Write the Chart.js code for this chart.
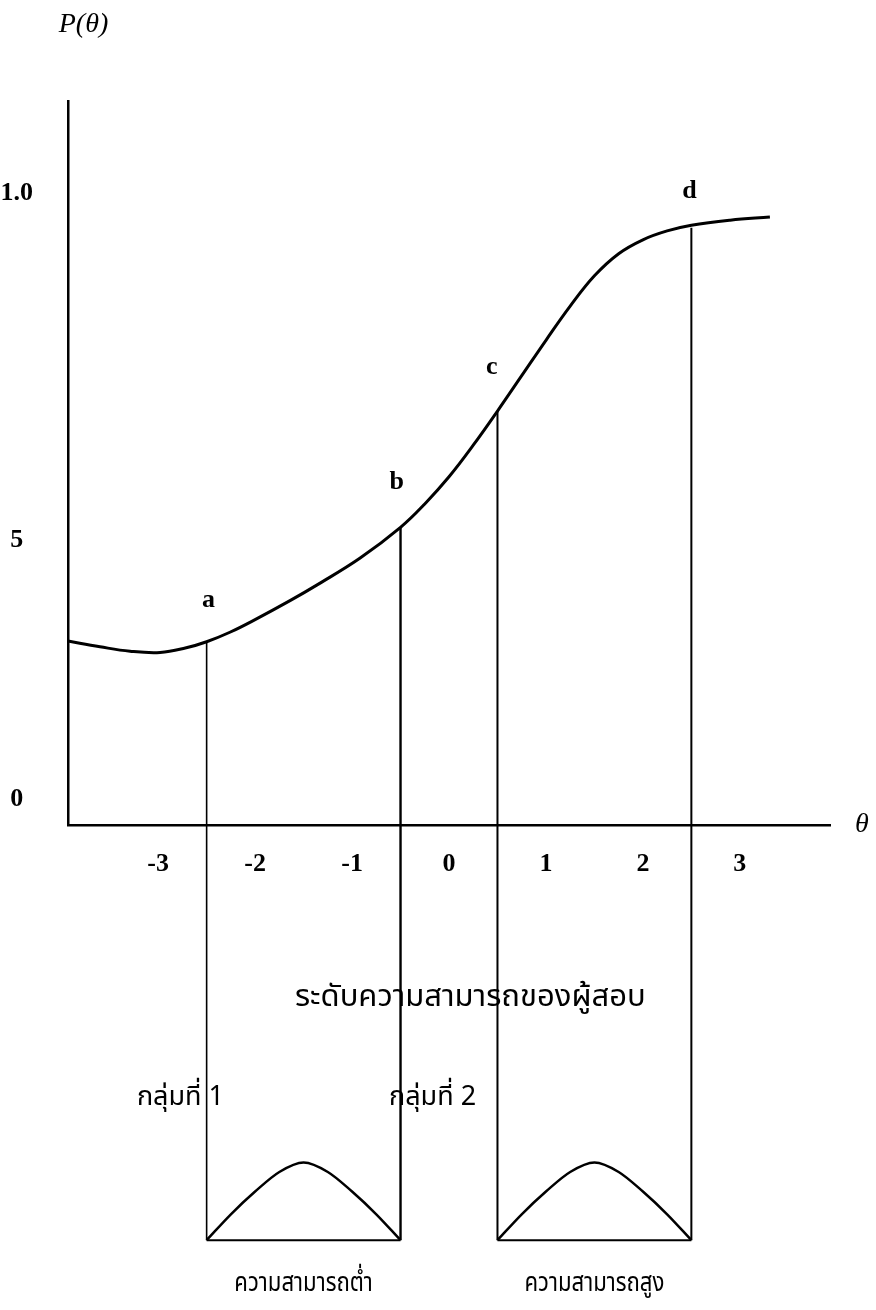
<!DOCTYPE html>
<html>
<head>
<meta charset="utf-8">
<script src="https://cdn.jsdelivr.net/npm/chart.js@4.4.1/dist/chart.umd.min.js"></script>
<style>
  html, body { margin: 0; padding: 0; background: #fff; }
  #wrap { width: 876px; height: 1310px; }
</style>
</head>
<body>
<div id="wrap"><canvas id="myChart" width="876" height="1310"></canvas></div>
<script>
// item characteristic curve
const thetaCurve = [-3.93, -3.6, -3.29, -2.98, -2.72, -2.5, -2.26, -2.0, -1.64, -1.36, -0.92, -0.5, -0.25, 0.0, 0.25, 0.5, 0.75, 1.0, 1.25, 1.5, 1.75, 2.0, 2.25, 2.5, 2.9, 3.31];
const probCurve = [0.291, 0.282, 0.275, 0.273, 0.28, 0.29, 0.305, 0.325, 0.355, 0.38, 0.422, 0.471, 0.508, 0.551, 0.601, 0.655, 0.711, 0.767, 0.821, 0.869, 0.904, 0.926, 0.94, 0.949, 0.957, 0.962];

// cut points a, b, c, d
const markerNames = ['a', 'b', 'c', 'd'];
const markerTheta = [-2.5, -0.5, 0.5, 2.5];
const markerTop = [0.29, 0.471, 0.655, 0.945];
const letterTheta = [-2.48, -0.54, 0.44, 2.48];
const letterProb = [0.356, 0.543, 0.725, 1.002];
const groundProb = -0.657;

// the two small ability distributions under the axis
const group1Theta = [-2.5, -2.25, -2.0, -1.75, -1.5, -1.25, -1.0, -0.75, -0.5];
const group1Prob = [-0.657, -0.616, -0.58, -0.549, -0.534, -0.549, -0.58, -0.616, -0.657];
const group2Theta = [0.5, 0.75, 1.0, 1.25, 1.5, 1.75, 2.0, 2.25, 2.5];
const group2Prob = [-0.657, -0.616, -0.58, -0.549, -0.534, -0.549, -0.58, -0.616, -0.657];

// tick labels
const xTickValues = [-3, -2, -1, 0, 1, 2, 3];
const yTickValues = [0.04, 0.451, 1.0];
const yTickLabels = ['0', '5', '1.0'];

// texts placed on the figure
const noteText = ['P(θ)', 'θ', 'ระดับความสามารถของผู้สอบ', 'กลุ่มที่ 1', 'กลุ่มที่ 2', 'ความสามารถต่ำ', 'ความสามารถสูง'];
const noteTheta = [-3.77, 4.26, 0.22, -2.77, -0.17, -1.5, 1.5];
const noteProb = [1.266, 0.0, -0.277, -0.435, -0.435, -0.728, -0.728];

const serif = '"Liberation Serif", "Times New Roman", serif';
const thai = '"Noto Sans Thai", "Noto Sans", "DejaVu Sans", sans-serif';
const noteFont = [
  'italic 28px ' + serif,
  'italic 28px ' + serif,
  '31px ' + thai,
  '27px ' + thai,
  '27px ' + thai,
  '27px ' + thai,
  '27px ' + thai,
];
const noteScaleX = [1, 1, 1, 1, 1, 0.82, 0.82];
const markerWidth = [1.6, 2.4, 2, 2];

const toPoints = (xs, ys) => xs.map((x, i) => ({ x, y: ys[i] }));

const lineSet = (data, width, mode) => ({
  data,
  showLine: true,
  borderColor: '#000',
  borderWidth: width,
  pointRadius: 0,
  fill: false,
  clip: false,
  tension: mode ? 0.4 : 0,
  cubicInterpolationMode: mode === 'monotone' ? 'monotone' : 'default',
});

const datasets = [lineSet(toPoints(thetaCurve, probCurve), 3, 'smooth')];
markerTheta.forEach((t, i) => {
  datasets.push(lineSet([{ x: t, y: markerTop[i] }, { x: t, y: groundProb }], markerWidth[i], null));
});
datasets.push(lineSet(toPoints(group1Theta, group1Prob), 2.5, 'monotone'));
datasets.push(lineSet(toPoints(group2Theta, group2Prob), 2.5, 'monotone'));
datasets.push(lineSet([{ x: group1Theta[0], y: groundProb }, { x: group1Theta[group1Theta.length - 1], y: groundProb }], 2, null));
datasets.push(lineSet([{ x: group2Theta[0], y: groundProb }, { x: group2Theta[group2Theta.length - 1], y: groundProb }], 2, null));

const notesPlugin = {
  id: 'notes',
  afterDraw(chart) {
    const { ctx, scales: { x, y } } = chart;
    ctx.save();
    ctx.fillStyle = '#000';
    ctx.textAlign = 'center';
    ctx.textBaseline = 'middle';
    // letters over the cut points
    ctx.font = 'bold 26px ' + serif;
    markerNames.forEach((name, i) => {
      ctx.fillText(name, x.getPixelForValue(letterTheta[i]), y.getPixelForValue(letterProb[i]));
    });
    noteText.forEach((txt, i) => {
      const px = x.getPixelForValue(noteTheta[i]);
      const py = y.getPixelForValue(noteProb[i]);
      ctx.save();
      ctx.translate(px, py);
      ctx.scale(noteScaleX[i], 1);
      ctx.font = noteFont[i];
      ctx.fillText(txt, 0, 0);
      ctx.restore();
    });
    ctx.restore();
  },
};

const ctx = document.getElementById('myChart').getContext('2d');
const chart = new Chart(ctx, {
  type: 'scatter',
  data: { datasets },
  options: {
    responsive: false,
    animation: false,
    devicePixelRatio: 1,
    layout: { padding: { top: 101, right: 46, left: 0, bottom: 0 } },
    plugins: { legend: { display: false }, tooltip: { enabled: false } },
    scales: {
      x: {
        type: 'linear',
        min: -3.93,
        max: 3.93,
        grid: { display: false },
        border: { display: true, color: '#000', width: 2.5 },
        afterBuildTicks: (scale) => { scale.ticks = xTickValues.map((v) => ({ value: v })); },
        afterFit: (scale) => { scale.height = 485; },
        ticks: {
          color: '#000',
          padding: 16,
          font: { family: serif, size: 26, weight: 'bold' },
          maxRotation: 0,
          autoSkip: false,
          callback: (v) => String(v),
        },
      },
      y: {
        type: 'linear',
        min: 0,
        max: 1.1456,
        grid: { display: false },
        border: { display: true, color: '#000', width: 2.5 },
        afterBuildTicks: (scale) => { scale.ticks = yTickValues.map((v) => ({ value: v })); },
        afterFit: (scale) => { scale.width = 68; },
        ticks: {
          color: '#000',
          padding: 27,
          crossAlign: 'center',
          font: { family: serif, size: 26, weight: 'bold' },
          autoSkip: false,
          callback: (v) => yTickLabels[yTickValues.indexOf(v)],
        },
      },
    },
  },
  plugins: [notesPlugin],
});
</script>
</body>
</html>
